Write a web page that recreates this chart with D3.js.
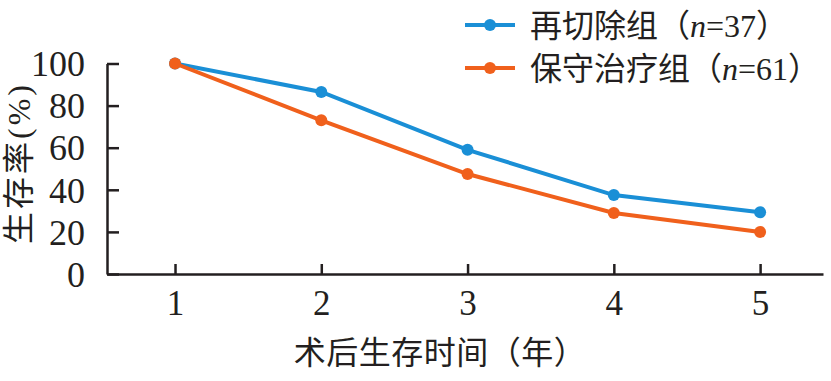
<!DOCTYPE html>
<html>
<head>
<meta charset="utf-8">
<script src="https://cdn.jsdelivr.net/npm/d3@7"></script>
<style>
  body { margin: 0; background: #fff; }
  #chart svg { display: block; }
</style>
</head>
<body>
<div id="chart"></div>
<script>
// data
var years = [1, 2, 3, 4, 5];
var reResection = [100, 86.5, 59, 37.5, 29.3];
var conservative = [100, 73, 47.5, 29, 20];
var yTicks = [0, 20, 40, 60, 80, 100];
var seriesNames = ["再切除组（", "保守治疗组（"];
var seriesN = ["=37）", "=61）"];
var seriesColors = ["#1a8fd6", "#f0601c"];

var svgWidth = 831;
var svgHeight = 381;
var serif = "'Liberation Serif', 'Noto Sans CJK SC', serif";
var ink = "#231f20";

var svg = d3.select("#chart")
  .append("svg")
  .attr("width", svgWidth)
  .attr("height", svgHeight);

// scales: axis line runs a bit past the first and last year
var xScale = d3.scaleLinear()
  .domain([0.535, 5.43])
  .range([107, 823]);

var yScale = d3.scaleLinear()
  .domain([0, 100])
  .range([274, 63.5]);

// x axis, ticks pointing inward
var xAxis = svg.append("g")
  .attr("transform", `translate(0, ${yScale(0)})`)
  .call(d3.axisBottom(xScale).tickValues(years).tickSizeInner(-10).tickSizeOuter(0).tickFormat(d3.format("d")));

xAxis.selectAll("text")
  .attr("dy", null)
  .attr("y", 41)
  .attr("font-size", "35px");

// y axis
var yAxis = svg.append("g")
  .attr("transform", `translate(${xScale.range()[0]}, 0)`)
  .call(d3.axisLeft(yScale).tickValues(yTicks).tickSizeInner(-12).tickSizeOuter(0).tickPadding(22));

yAxis.selectAll("text")
  .attr("font-size", "36px")
  .attr("dy", "0.34em");

svg.selectAll(".domain, .tick line")
  .attr("stroke", ink)
  .attr("stroke-width", 2.5);

svg.selectAll(".tick text")
  .attr("fill", ink)
  .attr("font-family", serif);

// lines + points
var line = d3.line()
  .x(function(d, i) { return xScale(years[i]); })
  .y(function(d) { return yScale(d); });

[reResection, conservative].forEach(function(values, k) {
  svg.append("path")
    .datum(values)
    .attr("d", line)
    .attr("fill", "none")
    .attr("stroke", seriesColors[k])
    .attr("stroke-width", 4);

  svg.append("g").selectAll("circle")
    .data(values)
    .enter()
    .append("circle")
    .attr("cx", function(d, i) { return xScale(years[i]); })
    .attr("cy", function(d) { return yScale(d); })
    .attr("r", 6)
    .attr("fill", seriesColors[k]);
});

// legend
var legend = svg.append("g");
seriesNames.forEach(function(name, k) {
  var y = 25 + k * 43;
  legend.append("line")
    .attr("x1", 465).attr("x2", 515)
    .attr("y1", y).attr("y2", y)
    .attr("stroke", seriesColors[k])
    .attr("stroke-width", 4);
  legend.append("circle")
    .attr("cx", 490).attr("cy", y)
    .attr("r", 6)
    .attr("fill", seriesColors[k]);
  var t = legend.append("text")
    .attr("x", 530)
    .attr("y", y + 12)
    .attr("font-size", "32px")
    .attr("font-family", serif)
    .attr("fill", ink);
  t.append("tspan").text(name);
  t.append("tspan").attr("font-style", "italic").text("n");
  t.append("tspan").text(seriesN[k]);
});

// x-axis label
svg.append("text")
  .attr("x", 440)
  .attr("y", 364)
  .attr("text-anchor", "middle")
  .attr("font-size", "32px")
  .attr("letter-spacing", "0.5px")
  .attr("font-family", serif)
  .attr("fill", ink)
  .text("术后生存时间（年）");

// y-axis label
svg.append("text")
  .attr("transform", "translate(30, 163) rotate(-90)")
  .attr("text-anchor", "middle")
  .attr("font-size", "32px")
  .attr("letter-spacing", "3px")
  .attr("font-family", serif)
  .attr("fill", ink)
  .text("生存率(%)");
</script>
</body>
</html>
